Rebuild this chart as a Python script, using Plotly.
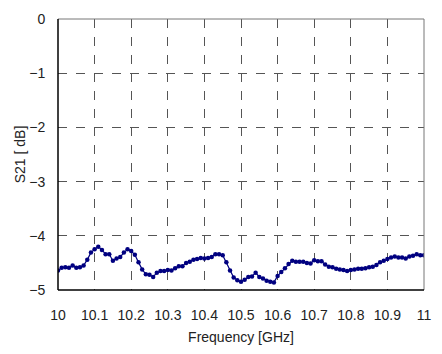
import numpy as np
import plotly.graph_objects as go

freq_start = 10.0
freq_step = 0.01
s21 = [
    -4.64, -4.59, -4.58, -4.59, -4.55, -4.59, -4.58, -4.55, -4.44, -4.31,
    -4.25, -4.20, -4.26, -4.34, -4.34, -4.46, -4.42, -4.39, -4.31, -4.25,
    -4.28, -4.35, -4.49, -4.62, -4.71, -4.72, -4.76, -4.68, -4.65, -4.65,
    -4.63, -4.64, -4.60, -4.56, -4.56, -4.50, -4.48, -4.44, -4.43, -4.41,
    -4.42, -4.41, -4.39, -4.34, -4.34, -4.36, -4.49, -4.64, -4.77, -4.82,
    -4.85, -4.81, -4.76, -4.75, -4.68, -4.76, -4.79, -4.83, -4.85, -4.86,
    -4.74, -4.67, -4.60, -4.52, -4.46, -4.48, -4.48, -4.48, -4.50, -4.51,
    -4.45, -4.47, -4.47, -4.53, -4.57, -4.58, -4.61, -4.62, -4.63, -4.65,
    -4.63, -4.62, -4.61, -4.61, -4.60, -4.58, -4.57, -4.54, -4.49, -4.46,
    -4.43, -4.40, -4.38, -4.40, -4.40, -4.42, -4.38, -4.37, -4.34, -4.36,
    -4.36,
]
freq = [round(freq_start + i * freq_step, 2) for i in range(len(s21))]

x_ticks = [10.0, 10.1, 10.2, 10.3, 10.4, 10.5, 10.6, 10.7, 10.8, 10.9, 11.0]
x_tick_labels = ["10", "10.1", "10.2", "10.3", "10.4", "10.5", "10.6", "10.7", "10.8", "10.9", "11"]
y_ticks = [0, -1, -2, -3, -4, -5]
y_tick_labels = ["0", "\u22121", "\u22122", "\u22123", "\u22124", "\u22125"]

font_family = "Liberation Sans, Arial, sans-serif"
fig = go.Figure()
fig.add_trace(go.Scatter(
    x=freq, y=s21, mode="lines+markers",
    line=dict(color="#000080", width=1.2),
    marker=dict(color="#000080", size=4.5),
    showlegend=False,
))

grid = dict(showgrid=True, gridcolor="#555555", gridwidth=1, griddash="dash")
fig.update_xaxes(
    range=[10, 11], tickvals=x_ticks, ticktext=x_tick_labels,
    showline=False, zeroline=False, ticks="outside", ticklen=12,
    tickcolor="rgba(0,0,0,0)", **grid,
    title=dict(text="Frequency [GHz]", standoff=10, font=dict(size=14, color="#222")),
    tickfont=dict(size=14, color="#222"),
)
fig.update_yaxes(
    range=[-5, 0], tickvals=y_ticks, ticktext=y_tick_labels,
    showline=False, zeroline=False, ticks="outside", ticklen=9,
    tickcolor="rgba(0,0,0,0)", **grid,
    title=dict(text="S21 [ dB]", standoff=0, font=dict(size=14, color="#222")),
    tickfont=dict(size=14, color="#222"),
)
# frame: gray top/right, black left/bottom
fig.add_shape(type="line", xref="paper", yref="paper", x0=0, x1=1, y0=1, y1=1,
              line=dict(color="#777777", width=1))
fig.add_shape(type="line", xref="paper", yref="paper", x0=1, x1=1, y0=0, y1=1,
              line=dict(color="#777777", width=1))
fig.add_shape(type="line", xref="paper", yref="paper", x0=0, x1=0, y0=0, y1=1,
              line=dict(color="black", width=1.5))
fig.add_shape(type="line", xref="paper", yref="paper", x0=0, x1=1, y0=0, y1=0,
              line=dict(color="black", width=1.5))

fig.update_layout(
    width=442, height=354,
    margin=dict(l=58, r=11, t=12, b=62),
    plot_bgcolor="white", paper_bgcolor="white",
    font=dict(family=font_family, size=14, color="#222"),
)
fig.write_html("out.html")
